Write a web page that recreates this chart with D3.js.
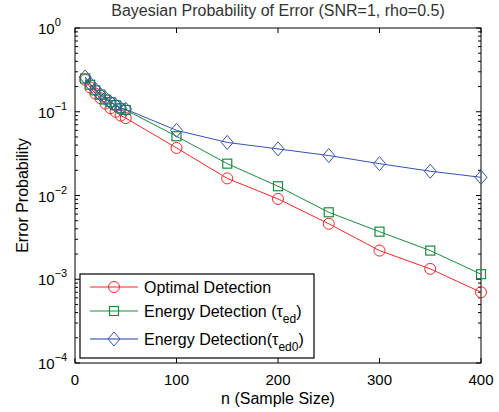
<!DOCTYPE html>
<html><head><meta charset="utf-8">
<script src="https://cdn.jsdelivr.net/npm/d3@7"></script>
<style>body{margin:0;background:#fff}text{font-family:"Liberation Sans",Arial,sans-serif}</style>
</head><body><svg id="c" width="499" height="412"></svg>
<script>
const nValues = [10,15,20,25,30,35,40,45,50,100,150,200,250,300,350,400];
const optimal = [0.24,0.195,0.165,0.145,0.125,0.11,0.1,0.09,0.084,0.037,0.016,0.0091,0.0046,0.0022,0.00133,0.0007];
const energyTed = [0.25,0.21,0.18,0.16,0.14,0.13,0.12,0.11,0.105,0.051,0.024,0.0129,0.0063,0.0037,0.0022,0.00115];
const energyTed0 = [0.26,0.215,0.185,0.16,0.145,0.13,0.12,0.11,0.107,0.060,0.043,0.036,0.030,0.024,0.0195,0.0165];
const xTicks = [0,100,200,300,400];
const yExps = [0,-1,-2,-3,-4];
const seriesNames = ["Optimal Detection","Energy Detection (","Energy Detection("];
const seriesSubs = ["","ed","ed0"];
const colors = ["#f02828","#1a8c3c","#3552b0"];
const legendLineColors = ["#f02828","#1a8c3c","#8a9fd0"];
const markers = ["circle","square","diamond"];

const svg = d3.select("#c");
const L=75,R=481,T=28,B=363;
const x = d3.scaleLinear().domain([0,400]).range([L,R]);
const y = d3.scaleLog().domain([1e-4,1]).range([B,T]);

svg.append("rect").attr("x",L).attr("y",T).attr("width",R-L).attr("height",B-T)
  .attr("fill","none").attr("stroke","#000").attr("stroke-width",1);

const g = svg.append("g");
xTicks.forEach(t=>{
  g.append("line").attr("x1",x(t)).attr("x2",x(t)).attr("y1",B).attr("y2",B-5).attr("stroke","#000");
  g.append("line").attr("x1",x(t)).attr("x2",x(t)).attr("y1",T).attr("y2",T+5).attr("stroke","#000");
  g.append("text").attr("x",x(t)).attr("y",B+22).attr("text-anchor","middle").attr("font-size",15).text(t);
});
yExps.forEach(e=>{
  const v=Math.pow(10,e), yy=y(v);
  g.append("line").attr("x1",L).attr("x2",L+5).attr("y1",yy).attr("y2",yy).attr("stroke","#000");
  g.append("line").attr("x1",R).attr("x2",R-5).attr("y1",yy).attr("y2",yy).attr("stroke","#000");
  const tx=g.append("text").attr("x",L-37).attr("y",yy+6).attr("text-anchor","start").attr("font-size",15);
  tx.append("tspan").text("10");
  tx.append("tspan").attr("dy",-8).attr("font-size",11).text(e===0?"0":"\u2212"+(-e));
  if(e>-4){
    for(let k=2;k<=9;k++){
      const mv=k*Math.pow(10,e-1), my=y(mv);
      g.append("line").attr("x1",L).attr("x2",L+3).attr("y1",my).attr("y2",my).attr("stroke","#000");
      g.append("line").attr("x1",R).attr("x2",R-3).attr("y1",my).attr("y2",my).attr("stroke","#000");
    }
  }
});

svg.append("text").attr("x",(L+R)/2).attr("y",16).attr("text-anchor","middle").attr("font-size",16)
  .attr("fill","#333").text("Bayesian Probability of Error (SNR=1, rho=0.5)");
svg.append("text").attr("x",(L+R)/2).attr("y",404).attr("text-anchor","middle").attr("font-size",16)
  .text("n (Sample Size)");
svg.append("text").attr("transform",`translate(28,${(T+B)/2}) rotate(-90)`).attr("text-anchor","middle")
  .attr("font-size",16).text("Error Probability");

function drawMarker(sel,type,cx,cy,col){
  if(type==="circle") sel.append("circle").attr("cx",cx).attr("cy",cy).attr("r",5.5)
    .attr("fill","none").attr("stroke",col).attr("stroke-width",1);
  else if(type==="square") sel.append("rect").attr("x",cx-4.5).attr("y",cy-4.5).attr("width",9).attr("height",9)
    .attr("fill","none").attr("stroke",col).attr("stroke-width",1.2);
  else sel.append("path").attr("d",`M${cx},${cy-7}L${cx+6},${cy}L${cx},${cy+7}L${cx-6},${cy}Z`)
    .attr("fill","none").attr("stroke",col).attr("stroke-width",1);
}

const allSeries=[optimal,energyTed,energyTed0];
const line=d3.line().x((d,i)=>x(nValues[i])).y(d=>y(d));
allSeries.forEach((s,si)=>{
  const gg=svg.append("g");
  gg.append("path").attr("d",line(s)).attr("fill","none").attr("stroke",colors[si]).attr("stroke-width",1);
  s.forEach((v,i)=>drawMarker(gg,markers[si],x(nValues[i]),y(v),colors[si]));
});

const lg=svg.append("g");
lg.append("rect").attr("x",80).attr("y",274).attr("width",234).attr("height",84)
  .attr("fill","#fff").attr("stroke","#000").attr("stroke-width",1.2);
const ly=[287,311,339];
seriesNames.forEach((nm,i)=>{
  lg.append("line").attr("x1",90).attr("x2",138).attr("y1",ly[i]).attr("y2",ly[i])
    .attr("stroke",legendLineColors[i]).attr("stroke-width",i===2?2:1);
  drawMarker(lg,markers[i],114,ly[i],colors[i]);
  const t=lg.append("text").attr("x",144).attr("y",ly[i]+6).attr("font-size",16);
  t.append("tspan").text(nm);
  if(seriesSubs[i]){
    t.append("tspan").text("\u03c4");
    t.append("tspan").attr("dy",6).attr("font-size",12).text(seriesSubs[i]);
    t.append("tspan").attr("dy",-6).text(")");
  }
});
</script></body></html>
